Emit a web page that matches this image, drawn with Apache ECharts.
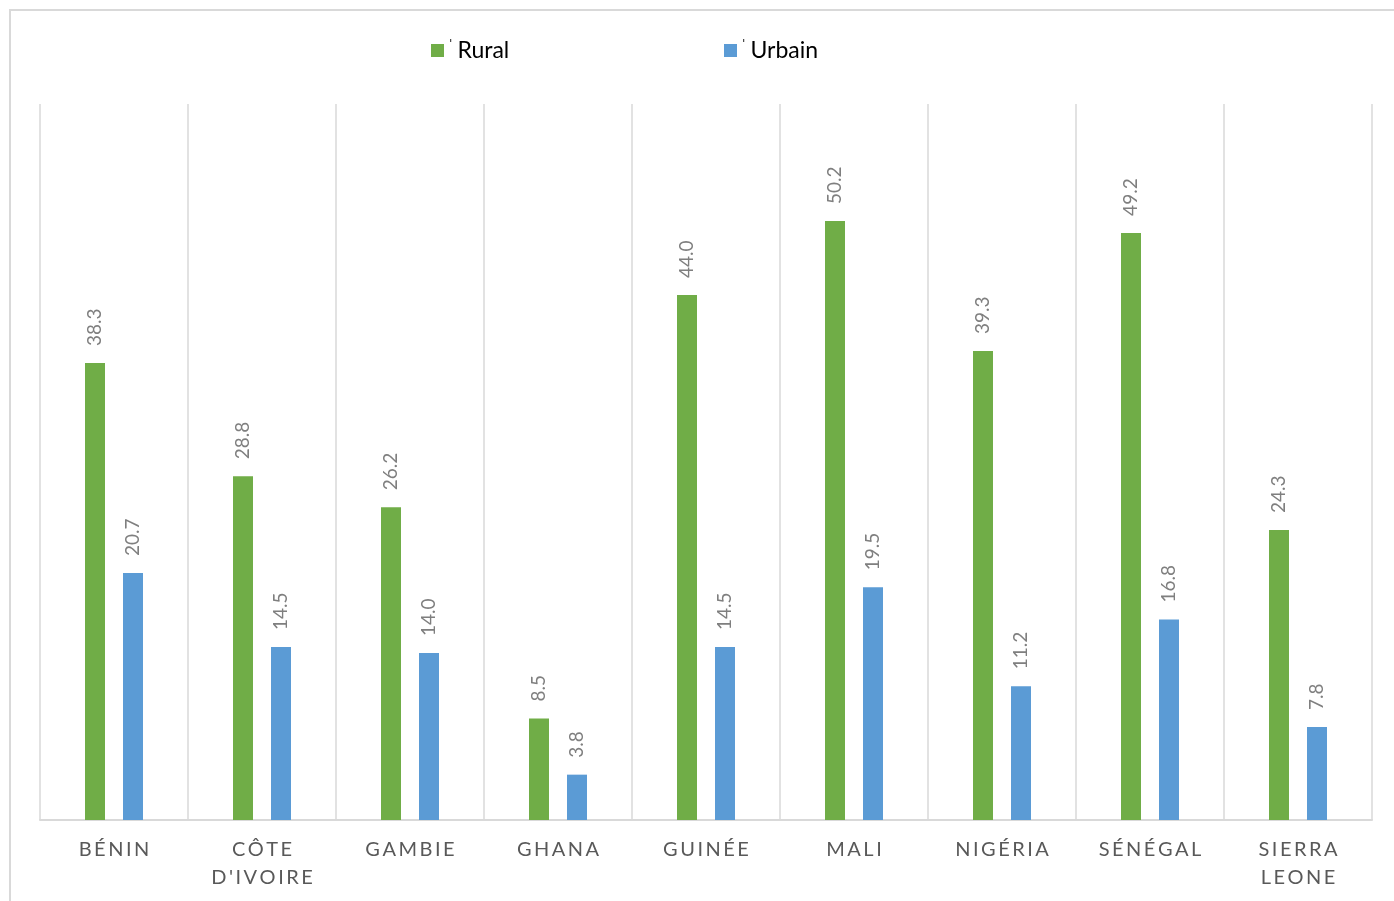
<!DOCTYPE html>
<html>
<head>
<meta charset="utf-8">
<script src="https://cdn.jsdelivr.net/npm/echarts@6/dist/echarts.min.js"></script>
<style>
  html, body { margin: 0; padding: 0; background: #ffffff; }
  #chart { width: 1394px; height: 901px; }
</style>
</head>
<body>
<div id="chart"></div>
<script>
// Countries along the horizontal axis
const countries = ['BÉNIN', "CÔTE D'IVOIRE", 'GAMBIE', 'GHANA', 'GUINÉE', 'MALI', 'NIGÉRIA', 'SÉNÉGAL', 'SIERRA LEONE'];
// Values per country
const rural = [38.3, 28.8, 26.2, 8.5, 44.0, 50.2, 39.3, 49.2, 24.3];
const urbain = [20.7, 14.5, 14.0, 3.8, 14.5, 19.5, 11.2, 16.8, 7.8];
const seriesNames = ['Rural', 'Urbain'];

const FONT = 'Lato, "Open Sans", sans-serif';

// Spread letters apart; each word goes on its own line
function spaced(name) {
  return name.split(' ').map(w => Array.from(w).join('\u2009')).join('\n');
}

function legendFor(name, left) {
  return {
    data: [name],
    left: left,
    top: 38,
    padding: 0,
    icon: 'rect',
    itemWidth: 13,
    itemHeight: 13,
    formatter: n => '{t|ˈ}{n|' + n + '}',
    textStyle: {
      fontFamily: FONT,
      color: '#000000',
      rich: {
        t: { fontSize: 14, color: '#000000', verticalAlign: 'top', lineHeight: 25, padding: [0, 5, 0, 0] },
        n: { fontSize: 23, color: '#000000', fontFamily: FONT, lineHeight: 25 }
      }
    }
  };
}

function labelStyle() {
  return {
    show: true,
    position: 'top',
    rotate: 90,
    align: 'left',
    verticalAlign: 'middle',
    distance: 17,
    fontFamily: FONT,
    fontSize: 19,
    color: '#7f7f7f',
    formatter: p => p.value.toFixed(1)
  };
}

const chart = echarts.init(document.getElementById('chart'), null, { renderer: 'canvas' });
chart.setOption({
  backgroundColor: '#ffffff',
  animation: false,
  graphic: [{
    type: 'rect',
    shape: { x: 10, y: 10, width: 1500, height: 1000 },
    style: { fill: 'none', stroke: '#d9d9d9', lineWidth: 2 },
    silent: true
  }],
  legend: [legendFor(seriesNames[0], 431), legendFor(seriesNames[1], 724)],
  grid: { left: 40, right: 22, top: 104, bottom: 81, containLabel: false },
  xAxis: {
    type: 'category',
    data: countries,
    boundaryGap: true,
    axisLine: { show: true, lineStyle: { color: '#d9d9d9', width: 2 } },
    axisTick: { show: false },
    splitLine: { show: true, lineStyle: { color: '#d9d9d9', width: 1.5 } },
    axisLabel: {
      interval: 0,
      margin: 16,
      fontFamily: FONT,
      fontSize: 20,
      lineHeight: 28,
      color: '#595959',
      formatter: spaced
    }
  },
  yAxis: {
    type: 'value',
    min: 0,
    max: 60,
    show: false,
    splitLine: { show: false }
  },
  series: [
    {
      name: seriesNames[0],
      type: 'bar',
      data: rural,
      barWidth: 20,
      barGap: '90%',
      itemStyle: { color: '#70ad47' },
      label: labelStyle()
    },
    {
      name: seriesNames[1],
      type: 'bar',
      data: urbain,
      barWidth: 20,
      barGap: '90%',
      itemStyle: { color: '#5b9bd5' },
      label: labelStyle()
    }
  ]
});
</script>
</body>
</html>
